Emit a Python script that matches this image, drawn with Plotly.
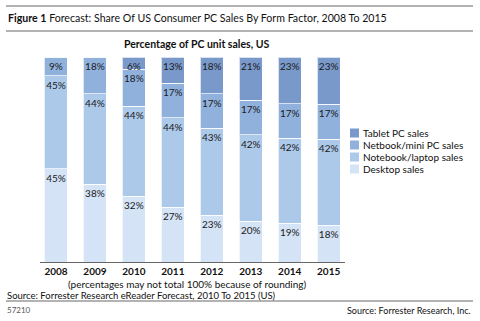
import plotly.graph_objects as go

years = ["2008", "2009", "2010", "2011", "2012", "2013", "2014", "2015"]
desktop = [45, 38, 32, 27, 23, 20, 19, 18]
notebook = [45, 44, 44, 44, 43, 42, 42, 42]
netbook = [9, 18, 18, 17, 17, 17, 17, 17]
tablet = [0, 0, 6, 13, 18, 21, 23, 23]

series_names = ["Desktop sales", "Notebook/laptop sales", "Netbook/mini PC sales", "Tablet PC sales"]
series_values = [desktop, notebook, netbook, tablet]
colors = ["#d4e3f6", "#adc9ea", "#91b1dd", "#7a99cb"]

FONT = "Lato"
W, H = 480, 321
L, R, T, B = 40, 345, 57, 262  # plot area in px


def px(x):
    return (x - L) / (R - L)


def py(y):
    return (B - y) / (B - T)


fig = go.Figure()
for name, vals, col in zip(series_names, series_values, colors):
    fig.add_trace(go.Bar(
        x=years, y=vals, name=name,
        marker=dict(color=col, line=dict(color="rgba(255,255,255,0.7)", width=1)),
        width=0.59,
        text=[f"{v}%" if v else "" for v in vals],
        textposition="inside", insidetextanchor="end", textangle=0,
        constraintext="none",
        textfont=dict(family=FONT, size=10, color="#1a1a1a"),
        showlegend=False,
    ))

fig.update_layout(
    barmode="stack", barnorm="percent",
    width=W, height=H,
    margin=dict(l=L, r=W - R, t=T, b=H - B, pad=0),
    paper_bgcolor="white", plot_bgcolor="white",
    font=dict(family=FONT, size=10, color="#111"),
    uniformtext=dict(minsize=10, mode="show"),
    xaxis=dict(
        type="category", range=[-0.41, 7.42],
        showline=True, linecolor="#666", linewidth=1,
        ticks="", showgrid=False,
        tickvals=years, ticktext=[f"<b>{y}</b>" for y in years],
        tickfont=dict(family=FONT, size=10, color="#111"),
    ),
    yaxis=dict(range=[0, 100], visible=False),
)

# custom legend (top = Tablet)
leg_y0 = 133
for i, (name, col) in enumerate(zip(series_names[::-1], colors[::-1])):
    yc = leg_y0 + i * 12
    fig.add_shape(type="rect", xref="paper", yref="paper",
                  x0=px(350), x1=px(359), y0=py(yc - 4.5), y1=py(yc + 4.5),
                  fillcolor=col, line=dict(width=0))
    fig.add_annotation(xref="paper", yref="paper", x=px(362), y=py(yc),
                       text=name, showarrow=False, xanchor="left", yanchor="middle",
                       borderpad=0,
                       font=dict(family=FONT, size=10, color="#111"))

# header / footer lines
for yl in [6, 31, 301]:
    fig.add_shape(type="line", xref="paper", yref="paper",
                  x0=px(6), x1=px(473), y0=py(yl), y1=py(yl),
                  line=dict(color="#9a9a9a", width=1.5))

ann = [
    (7, 18, "<b>Figure 1</b> Forecast: Share Of US Consumer PC Sales By Form Factor, 2008 To 2015", "left", 10.6, "#111"),
    (196, 44, "<b>Percentage of PC unit sales, US</b>", "center", 10.5, "#111"),
    (187, 284, "(percentages may not total 100% because of rounding)", "center", 10, "#111"),
    (6, 295, "Source: Forrester Research eReader Forecast, 2010 To 2015 (US)", "left", 9.5, "#111"),
    (6, 310, "57210", "left", 8, "#555"),
    (472, 310, "Source: Forrester Research, Inc.", "right", 9, "#111"),
]
for x, y, t, anc, sz, c in ann:
    fig.add_annotation(xref="paper", yref="paper", x=px(x), y=py(y), text=t,
                       showarrow=False, xanchor=anc, yanchor="middle",
                       borderpad=0,
                       font=dict(family=FONT, size=sz, color=c))

fig.write_html("out.html")
